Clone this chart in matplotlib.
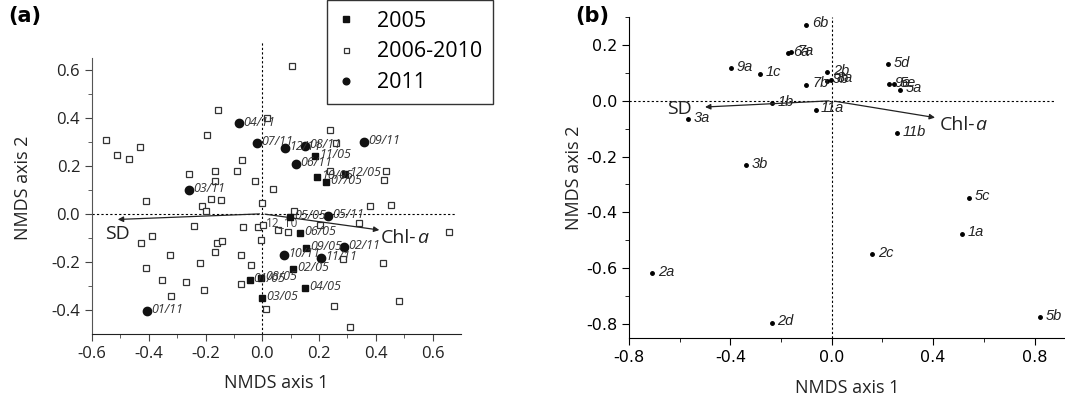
import numpy as np
import matplotlib.pyplot as plt
from matplotlib.ticker import MultipleLocator, FixedLocator

plt.rcParams["axes.unicode_minus"] = False

# ---- panel (a) data ----
# 2005 samples (filled squares)
lab05 = ["01/05", "02/05", "03/05", "04/05", "05/05", "06/05",
         "07/05", "08/05", "09/05", "10/05", "11/05", "12/05"]
x05 = [-0.045, 0.108, 0.000, 0.152, 0.098, 0.132, 0.226, -0.004, 0.155, 0.193, 0.187, 0.292]
y05 = [-0.277, -0.228, -0.349, -0.307, -0.013, -0.078, 0.131, -0.267, -0.142, 0.153, 0.242, 0.165]

# 2011 samples (filled circles)
lab11 = ["01/11", "02/11", "03/11", "04/11", "05/11", "06/11",
         "07/11", "08/11", "09/11", "10/11", "11/11", "12/11"]
x11 = [-0.407, 0.287, -0.257, -0.081, 0.233, 0.119, -0.020, 0.151, 0.360, 0.078, 0.208, 0.079]
y11 = [-0.403, -0.138, 0.101, 0.376, -0.010, 0.209, 0.294, 0.284, 0.299, -0.172, -0.183, 0.274]

# 2006-2010 samples (open squares)
xmid = [-0.552, -0.511, -0.468, -0.431, -0.411, -0.258, -0.194, -0.156, -0.166, -0.167,
        -0.182, -0.144, -0.211, -0.199, -0.089, -0.072, -0.027, 0.000, 0.015, 0.039,
        0.105, 0.111, 0.240, 0.261, 0.238, 0.435, 0.430, 0.379, 0.454, -0.068,
        -0.014, 0.004, 0.056, 0.092, 0.205, 0.339, 0.657, -0.005, -0.074, -0.041,
        -0.076, 0.283, 0.425, 0.013, 0.251, 0.481, 0.308, -0.240, -0.426, -0.387,
        -0.326, -0.408, -0.355, -0.322, -0.268, -0.218, -0.207, -0.161, -0.141, -0.165]
ymid = [0.309, 0.244, 0.226, 0.277, 0.052, 0.167, 0.327, 0.431, 0.176, 0.135,
        0.063, 0.059, 0.031, 0.012, 0.177, 0.223, 0.138, 0.044, 0.397, 0.102,
        0.615, 0.012, 0.347, 0.295, 0.178, 0.180, 0.140, 0.034, 0.037, -0.056,
        -0.057, -0.046, -0.066, -0.074, -0.045, -0.040, -0.077, -0.107, -0.170, -0.213,
        -0.294, -0.190, -0.205, -0.397, -0.384, -0.362, -0.470, -0.049, -0.120, -0.094,
        -0.170, -0.224, -0.274, -0.344, -0.285, -0.205, -0.317, -0.120, -0.115, -0.160]

# environmental vectors
vec_a = {"SD": (-0.519, -0.024), "Chl": (0.422, -0.069)}

# ---- panel (b) data ----
lab_b = ["6b", "6a", "7a", "9a", "1c", "7b", "1b", "11a", "3a", "3b", "2b", "9b", "8a",
         "5d", "9e", "5e", "5a", "11b", "5c", "1a", "2c", "2a", "2d", "5b"]
xb = [-0.101, -0.173, -0.159, -0.399, -0.283, -0.100, -0.234, -0.064, -0.566, -0.337,
      -0.017, -0.020, -0.004, 0.223, 0.227, 0.246, 0.270, 0.256, 0.540, 0.515,
      0.159, -0.708, -0.237, 0.822]
yb = [0.273, 0.171, 0.173, 0.117, 0.097, 0.057, -0.008, -0.032, -0.066, -0.230,
      0.102, 0.072, 0.075, 0.132, 0.060, 0.060, 0.039, -0.116, -0.348, -0.477,
      -0.549, -0.618, -0.795, -0.776]
vec_b = {"SD": (-0.511, -0.023), "Chl": (0.418, -0.062)}

fig = plt.figure(figsize=(10.65, 4.04), dpi=100)

FA = "Open Sans"
FB = "DejaVu Sans"

# ================= panel (a) =================
ax = fig.add_axes([92 / 1065, 1 - 334 / 404, 369 / 1065, 293.3 / 404])
ax.set_xlim(-0.6, 0.7)
ax.set_ylim(-0.5, 0.72)
for s in ["top", "right"]:
    ax.spines[s].set_visible(False)
ax.spines["left"].set_bounds(-0.5, 0.65)
ax.spines["left"].set_color("#555555")
ax.spines["bottom"].set_color("#222222")
xt = [-0.6, -0.4, -0.2, 0.0, 0.2, 0.4, 0.6]
yt = [-0.4, -0.2, 0.0, 0.2, 0.4, 0.6]
ax.set_xticks(xt)
ax.set_yticks(yt)
ax.xaxis.set_minor_locator(FixedLocator([-0.5, -0.3, -0.1, 0.1, 0.3, 0.5]))
ax.yaxis.set_minor_locator(FixedLocator([-0.3, -0.1, 0.1, 0.3, 0.5]))
ax.set_xticklabels(["%.1f" % v for v in xt])
ax.set_yticklabels(["%.1f" % v for v in yt])
ax.tick_params(which="both", direction="out", colors="#444444", labelcolor="#222222")
ax.tick_params(which="major", length=5, labelsize=12)
ax.tick_params(which="minor", length=3)
for t in ax.get_xticklabels() + ax.get_yticklabels():
    t.set_fontfamily(FA)

ax.axhline(0, xmin=0, xmax=(0.68 + 0.6) / 1.3, color="k", lw=0.8, ls=(0, (2, 2)))
ax.axvline(0, ymin=0, ymax=1.0, color="k", lw=0.8, ls=(0, (2, 2)))

ax.plot(xmid, ymid, "s", mfc="white", mec="#333333", mew=0.9, ms=4.5, ls="none", label="2006-2010", zorder=3)
ax.plot(x05, y05, "s", color="#111111", ms=5, ls="none", label="2005", zorder=4)
ax.plot(x11, y11, "o", color="#111111", ms=6, ls="none", label="2011", zorder=4)

for lx, ly, lt in zip(x05 + x11, y05 + y11, lab05 + lab11):
    ax.annotate(lt, (lx, ly), xytext=(3, 1), textcoords="offset points", fontsize=9,
                style="italic", family=FA, color="#333333", va="center", zorder=5)
ax.annotate("12_10", (0.004, -0.046), xytext=(2, 2), textcoords="offset points", fontsize=8.5,
            family=FA, color="#444444", va="center")

for name, (vx, vy) in vec_a.items():
    ax.annotate("", xy=(vx, vy), xytext=(0, 0),
                arrowprops=dict(arrowstyle="-|>", color="#222222", lw=0.9, mutation_scale=8))
ax.text(-0.51, -0.083, "SD", fontsize=14, family=FA, ha="center", va="center", color="#222222")
ax.text(0.418, -0.10, "Chl-", fontsize=14, family=FA, ha="left", va="center", color="#222222")
ax.text(0.545, -0.10, "a", fontsize=14, family=FA, style="italic", ha="left", va="center", color="#222222")

ax.set_xlabel("NMDS axis 1", fontsize=13, family=FA, color="#222222", labelpad=9)
ax.set_ylabel("NMDS axis 2", fontsize=13, family=FA, color="#222222", labelpad=14)

h, l = ax.get_legend_handles_labels()
order = [1, 0, 2]
leg = fig.legend([h[i] for i in order], [l[i] for i in order], loc="upper left",
                 bbox_to_anchor=(327 / 1065, 1.0), bbox_transform=fig.transFigure,
                 prop={"family": FA, "size": 15.5}, frameon=True, fancybox=False,
                 handlelength=0.8, handletextpad=1.0, borderpad=0.5, labelspacing=0.45,
                 markerscale=0.8, borderaxespad=0)
leg.get_frame().set_edgecolor("black")
leg.get_frame().set_linewidth(1.0)

fig.text(0.008, 0.985, "(a)", fontsize=15, fontweight="bold", family=FB, va="top")

# ================= panel (b) =================
bx = fig.add_axes([629 / 1065, 1 - 338 / 404, 436 / 1065, 321 / 404])
bx.set_xlim(-0.8, 0.92)
bx.set_ylim(-0.85, 0.3)
for s in ["top", "right"]:
    bx.spines[s].set_visible(False)
bx.set_xticks([-0.8, -0.4, 0.0, 0.4, 0.8])
bx.set_yticks([-0.8, -0.6, -0.4, -0.2, 0.0, 0.2])
bx.xaxis.set_minor_locator(MultipleLocator(0.2))
bx.yaxis.set_minor_locator(MultipleLocator(0.1))
bx.tick_params(which="both", direction="out")
bx.tick_params(which="major", length=5, labelsize=11.5)
bx.tick_params(which="minor", length=3)
for t in bx.get_xticklabels() + bx.get_yticklabels():
    t.set_fontfamily(FB)

bx.axhline(0, xmin=0, xmax=(0.88 + 0.8) / 1.72, color="k", lw=0.8, ls=(0, (2, 2)))
bx.axvline(0, color="k", lw=0.8, ls=(0, (2, 2)))

bx.plot(xb, yb, "o", color="k", ms=2.5, ls="none", zorder=3)
for lx, ly, lt in zip(xb, yb, lab_b):
    bx.annotate(lt, (lx, ly), xytext=(4, 1), textcoords="offset points", fontsize=10.5,
                style="italic", family="Liberation Sans", color="#222222", va="center")

for name, (vx, vy) in vec_b.items():
    bx.annotate("", xy=(vx, vy), xytext=(0, 0),
                arrowprops=dict(arrowstyle="-|>", color="#222222", lw=0.9, mutation_scale=8))
bx.text(-0.6, -0.028, "SD", fontsize=14, family=FA, ha="center", va="center", color="#222222")
bx.text(0.425, -0.088, "Chl-", fontsize=14, family=FA, ha="left", va="center", color="#222222")
bx.text(0.567, -0.088, "a", fontsize=14, family=FA, style="italic", ha="left", va="center", color="#222222")

bx.set_xlabel("NMDS axis 1", fontsize=13, family=FA, color="#222222", labelpad=10)
bx.set_ylabel("NMDS axis 2", fontsize=13, family=FA, color="#222222", labelpad=2)

fig.text(0.540, 0.985, "(b)", fontsize=15, fontweight="bold", family=FB, va="top")

fig.savefig("out.png", dpi=100)
